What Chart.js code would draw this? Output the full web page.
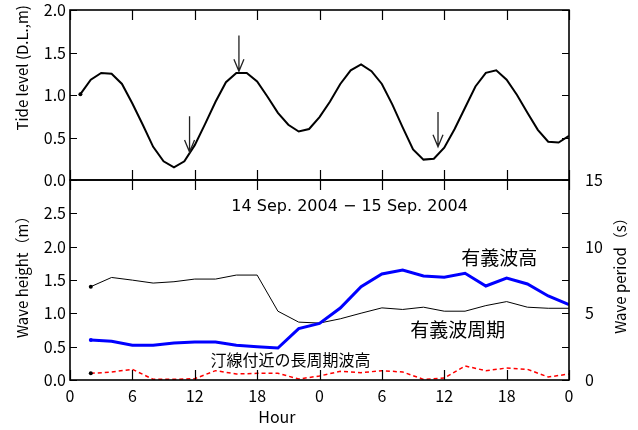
<!DOCTYPE html>
<html>
<head>
<meta charset="utf-8">
<script src="https://cdn.jsdelivr.net/npm/chart.js@4.4.1/dist/chart.umd.min.js"></script>
<style>
  html, body { margin: 0; padding: 0; background: #fff; }
  #wrap { position: relative; width: 638px; height: 430px; }
  .box { position: absolute; left: 0; width: 638px; }
  #topBox { top: 0; height: 190px; }
  #botBox { top: 170px; height: 260px; }
</style>
</head>
<body>
<div id="wrap">
  <div class="box" id="topBox"><canvas id="tideChart"></canvas></div>
  <div class="box" id="botBox"><canvas id="waveChart"></canvas></div>
</div>
<script>
"use strict";

// Data (hour counted from 0:00 on 14 Sep. 2004)
const tideHours = [1, 2, 3, 4, 5, 6, 7, 8, 9, 10, 11, 12, 13, 14, 15, 16, 17, 18, 19, 20, 21, 22, 23, 24,
                   25, 26, 27, 28, 29, 30, 31, 32, 33, 34, 35, 36, 37, 38, 39, 40, 41, 42, 43, 44, 45, 46, 47, 48];
const tideLevel = [1.01, 1.18, 1.26, 1.25, 1.13, 0.90, 0.65, 0.39, 0.22, 0.15, 0.22, 0.41,
                   0.66, 0.92, 1.15, 1.26, 1.26, 1.16, 0.98, 0.79, 0.65, 0.57, 0.60, 0.74,
                   0.92, 1.13, 1.29, 1.36, 1.28, 1.13, 0.89, 0.62, 0.36, 0.24, 0.25, 0.38,
                   0.60, 0.85, 1.10, 1.26, 1.29, 1.18, 1.00, 0.79, 0.59, 0.45, 0.44, 0.52];

const waveHours = [2, 4, 6, 8, 10, 12, 14, 16, 18, 20, 22, 24, 26, 28, 30, 32, 34, 36, 38, 40, 42, 44, 46, 48];
const waveHeight = [0.60, 0.58, 0.52, 0.52, 0.555, 0.57, 0.57, 0.52, 0.50, 0.48, 0.77, 0.85,
                    1.08, 1.40, 1.59, 1.65, 1.56, 1.54, 1.60, 1.41, 1.53, 1.44, 1.26, 1.13];
const wavePeriod = [7.00, 7.69, 7.49, 7.27, 7.37, 7.57, 7.57, 7.87, 7.87, 5.16, 4.34, 4.27,
                    4.59, 5.01, 5.41, 5.29, 5.46, 5.16, 5.16, 5.58, 5.88, 5.46, 5.38, 5.38];
const longWaveHeight = [0.10, 0.12, 0.16, 0.01, 0.01, 0.02, 0.14, 0.09, 0.10, 0.10, 0.015, 0.06,
                        0.13, 0.11, 0.14, 0.12, 0.01, 0.03, 0.21, 0.14, 0.18, 0.16, 0.045, 0.09];

// arrows on the tide curve: hour, tail level, tip level
const arrowHours = [11.5, 16.25, 35.4];
const arrowTail = [0.75, 1.70, 0.80];
const arrowTip = [0.33, 1.28, 0.39];

const xTickValues = [0, 6, 12, 18, 24, 30, 36, 42, 48];
const xTickLabels = ["0", "6", "12", "18", "0", "6", "12", "18", "0"];

const FONT = "'Noto Sans CJK JP', 'DejaVu Sans', sans-serif";
const LATIN = "'DejaVu Sans', sans-serif";
Chart.defaults.color = "#000";
Chart.defaults.font.family = FONT;
Chart.defaults.font.size = 16;
Chart.defaults.animation = false;

const PLOT_LEFT = 70;
const PLOT_RIGHT_GAP = 69;
const X_TICK = 10;
const Y_TICK = 7;

function pts(xs, ys) {
    return xs.map((x, i) => ({ x: x, y: ys[i] }));
}

function firstDot(ctx) {
    return ctx.dataIndex === 0 ? 2 : 0;
}

function vText(ctx, text, x, y, size) {
    ctx.save();
    ctx.translate(x, y);
    ctx.rotate(-Math.PI / 2);
    ctx.font = size + "px " + FONT;
    ctx.textAlign = "center";
    ctx.textBaseline = "middle";
    ctx.fillStyle = "#000";
    ctx.fillText(text, 0, 0);
    ctx.restore();
}

function hText(ctx, text, x, y, size, family) {
    ctx.save();
    ctx.font = size + "px " + (family || FONT);
    ctx.textAlign = "center";
    ctx.textBaseline = "middle";
    ctx.fillStyle = "#000";
    ctx.fillText(text, x, y);
    ctx.restore();
}

// y axis of fixed width, no extra room for the end labels
function fixY(width) {
    return s => {
        s.width = width;
        s.paddingTop = 0;
        s.paddingBottom = 0;
    };
}

// frame with inward ticks on all four sides
const framePlugin = {
    id: "frame",
    afterDraw(chart) {
        const ctx = chart.ctx, ca = chart.chartArea;
        const xs = chart.scales.x, ys = chart.scales.y;
        const rs = chart.scales.y2 || ys;
        ctx.save();
        ctx.strokeStyle = "#000";
        ctx.lineWidth = 1.2;
        ctx.beginPath();
        xTickValues.forEach(v => {
            const px = Math.round(xs.getPixelForValue(v)) + 0.5;
            ctx.moveTo(px, ca.top); ctx.lineTo(px, ca.top + X_TICK);
            ctx.moveTo(px, ca.bottom); ctx.lineTo(px, ca.bottom - X_TICK);
        });
        ys.ticks.forEach(t => {
            const py = Math.round(ys.getPixelForValue(t.value)) + 0.5;
            ctx.moveTo(ca.left, py); ctx.lineTo(ca.left + Y_TICK, py);
        });
        rs.ticks.forEach(t => {
            const py = Math.round(rs.getPixelForValue(t.value)) + 0.5;
            ctx.moveTo(ca.right, py); ctx.lineTo(ca.right - Y_TICK, py);
        });
        ctx.stroke();
        ctx.lineWidth = 1.6;
        ctx.strokeRect(ca.left, ca.top, ca.right - ca.left, ca.bottom - ca.top);
        ctx.restore();
    }
};

const tideExtras = {
    id: "tideExtras",
    afterDraw(chart) {
        const ctx = chart.ctx, xs = chart.scales.x, ys = chart.scales.y;
        ctx.save();
        ctx.strokeStyle = "#222";
        ctx.lineWidth = 1.3;
        arrowHours.forEach((h, i) => {
            const px = xs.getPixelForValue(h);
            const y1 = ys.getPixelForValue(arrowTail[i]);
            const y2 = ys.getPixelForValue(arrowTip[i]);
            ctx.beginPath();
            ctx.moveTo(px, y1); ctx.lineTo(px, y2);
            ctx.moveTo(px - 5, y2 - 12); ctx.lineTo(px, y2); ctx.lineTo(px + 5, y2 - 12);
            ctx.stroke();
        });
        ctx.restore();
        vText(ctx, "Tide level (D.L.,m)", 22, ys.getPixelForValue(1.32), 15);
    }
};

const waveExtras = {
    id: "waveExtras",
    afterDraw(chart) {
        const ctx = chart.ctx, xs = chart.scales.x, ys = chart.scales.y, ca = chart.chartArea;
        hText(ctx, "14 Sep. 2004 \u2212 15 Sep. 2004", xs.getPixelForValue(26.9), ys.getPixelForValue(2.6), 16, LATIN);
        hText(ctx, "有義波高", xs.getPixelForValue(41.3), ys.getPixelForValue(1.84), 19);
        hText(ctx, "有義波周期", xs.getPixelForValue(37.3), ys.getPixelForValue(0.75), 19);
        hText(ctx, "汀線付近の長周期波高", xs.getPixelForValue(21.2), ys.getPixelForValue(0.30), 16);
        hText(ctx, "Hour", xs.getPixelForValue(19.9), ca.bottom + 37, 16);
        vText(ctx, "Wave height\uFF08m\uFF09", 22, ys.getPixelForValue(1.6), 15);
        vText(ctx, "Wave period\uFF08s\uFF09", 620, ys.getPixelForValue(1.62), 15);
    }
};

function xAxis(visible) {
    const axis = {
        type: "linear",
        min: 0,
        max: 48,
        display: visible,
        grid: { display: false, drawTicks: false },
        border: { display: false },
        afterBuildTicks: s => { s.ticks = xTickValues.map(v => ({ value: v })); },
        ticks: {
            padding: 6,
            maxRotation: 0,
            autoSkip: false,
            callback: (v, i) => xTickLabels[i]
        }
    };
    if (visible) {
        axis.afterFit = s => { s.height = 50; s.paddingLeft = 0; s.paddingRight = 0; };
    }
    return axis;
}

const lineDefaults = {
    pointRadius: firstDot,
    pointBorderWidth: 0,
    tension: 0
};

new Chart(document.getElementById("tideChart"), {
    type: "line",
    data: {
        datasets: [Object.assign({
            data: pts(tideHours, tideLevel),
            borderColor: "#000",
            backgroundColor: "#000",
            borderWidth: 2
        }, lineDefaults)]
    },
    options: {
        responsive: true,
        maintainAspectRatio: false,
        layout: { padding: { top: 10, bottom: 10, left: 0, right: PLOT_RIGHT_GAP } },
        plugins: { legend: { display: false }, tooltip: { enabled: false } },
        scales: {
            x: xAxis(false),
            y: {
                min: 0,
                max: 2,
                grid: { display: false, drawTicks: false },
                border: { display: false },
                ticks: { stepSize: 0.5, padding: 4, callback: v => v.toFixed(1) },
                afterFit: fixY(PLOT_LEFT)
            }
        }
    },
    plugins: [framePlugin, tideExtras]
});

new Chart(document.getElementById("waveChart"), {
    type: "line",
    data: {
        datasets: [
            Object.assign({
                label: "有義波高",
                data: pts(waveHours, waveHeight),
                yAxisID: "y",
                borderColor: "#0000ff",
                backgroundColor: "#0000ff",
                borderWidth: 3
            }, lineDefaults),
            Object.assign({
                label: "有義波周期",
                data: pts(waveHours, wavePeriod),
                yAxisID: "y2",
                borderColor: "#000",
                backgroundColor: "#000",
                borderWidth: 1
            }, lineDefaults),
            Object.assign({
                label: "汀線付近の長周期波高",
                data: pts(waveHours, longWaveHeight),
                yAxisID: "y",
                borderColor: "#ff0000",
                backgroundColor: "#000",
                borderWidth: 1.5,
                borderDash: [4, 3]
            }, lineDefaults)
        ]
    },
    options: {
        responsive: true,
        maintainAspectRatio: false,
        layout: { padding: { top: 10, bottom: 0, left: 0, right: 0 } },
        plugins: { legend: { display: false }, tooltip: { enabled: false } },
        scales: {
            x: xAxis(true),
            y: {
                position: "left",
                min: 0,
                max: 3,
                grid: { display: false, drawTicks: false },
                border: { display: false },
                ticks: { stepSize: 0.5, padding: 4, callback: v => (v >= 3 ? "" : v.toFixed(1)) },
                afterFit: fixY(PLOT_LEFT)
            },
            y2: {
                position: "right",
                min: 0,
                max: 15,
                grid: { display: false, drawTicks: false },
                border: { display: false },
                ticks: { stepSize: 2.5, padding: 16, callback: v => (v % 5 === 0 ? String(v) : "") },
                afterFit: fixY(PLOT_RIGHT_GAP)
            }
        }
    },
    plugins: [framePlugin, waveExtras]
});
</script>
</body>
</html>
